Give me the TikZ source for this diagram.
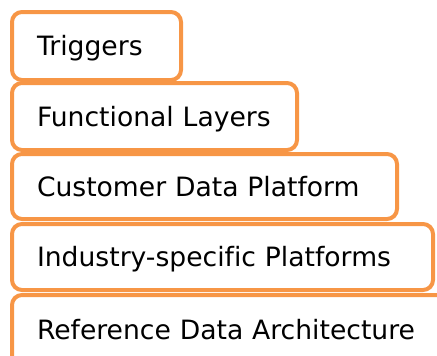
\documentclass[tikz,border=0pt]{standalone}
\usepackage{fontspec}
\setmainfont[Ligatures={NoCommon}]{DejaVu Sans}
\definecolor{layerorange}{RGB}{247,150,70}

\begin{document}
\begin{tikzpicture}[
    x=1pt, y=-1pt,
    layer/.style={draw=layerorange, line width=4pt, rounded corners=10pt,
      anchor=north west, inner xsep=25pt, inner ysep=0pt, align=left,
      text height=19pt, text depth=0pt, font=\fontsize{26.6}{30}\selectfont}
  ]
  \clip (0,0) rectangle (437,356);

  \node[layer, text width=119pt, minimum height=68pt] (trig) at (10,10)  {Triggers};
  \node[layer, text width=235pt, minimum height=67pt] (func) at (10,81)  {Functional Layers};
  \node[layer, text width=335pt, minimum height=65pt] (cdp)  at (10,152) {Customer Data Platform};
  \node[layer, text width=371pt, minimum height=66pt] (ind)  at (10,222) {Industry-specific Platforms};
  \node[layer, text width=410pt, minimum height=70pt] (ref)  at (10,293) {Reference Data Architecture};
\end{tikzpicture}
\end{document}
